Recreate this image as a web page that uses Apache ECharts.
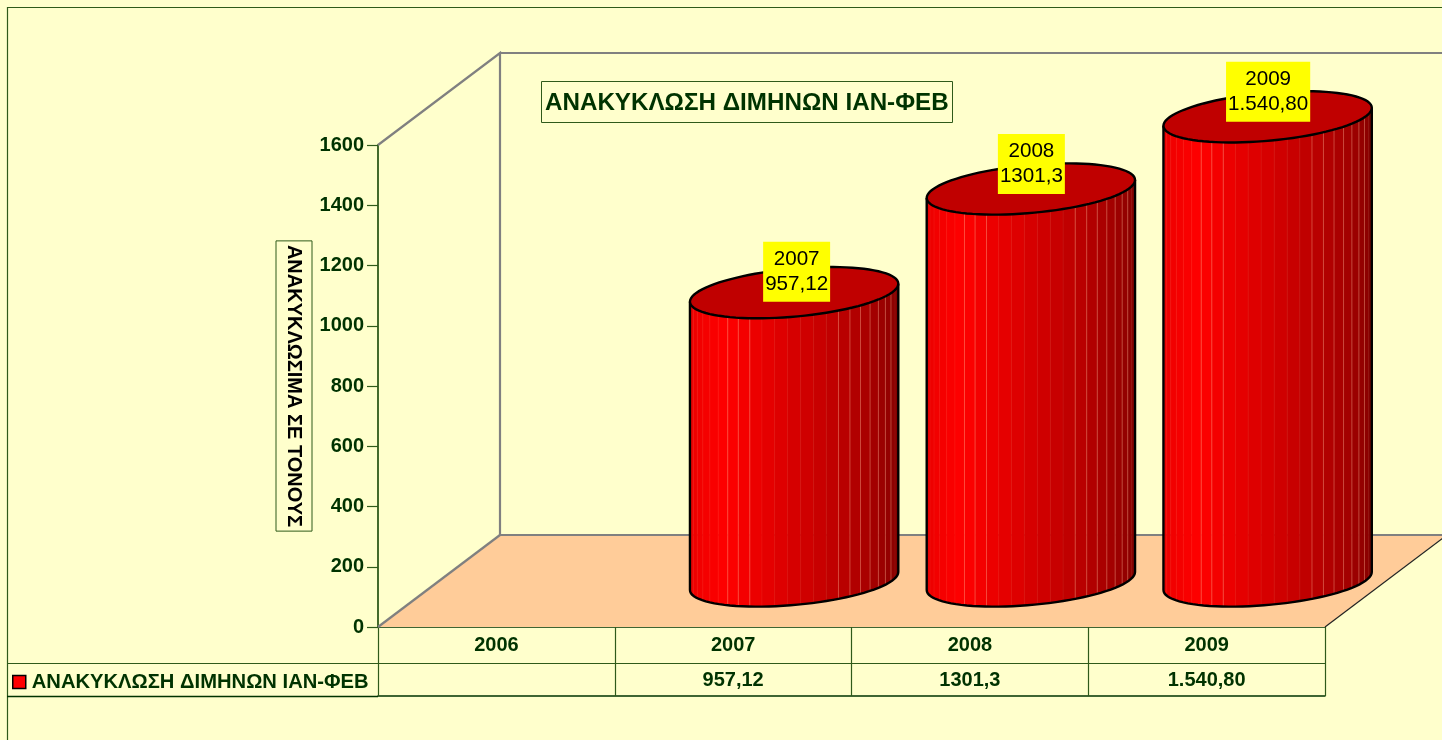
<!DOCTYPE html>
<html>
<head>
<meta charset="utf-8">
<style>
  html, body { margin: 0; padding: 0; background: #ffffcc; overflow: hidden; }
  #main { width: 1442px; height: 740px; }
</style>
<script src="https://cdn.jsdelivr.net/npm/echarts@6/dist/echarts.min.js"></script>
</head>
<body>
<div id="main"></div>
<script>
const years = ['2006', '2007', '2008', '2009']
const tableValues = ['', '957,12', '1301,3', '1.540,80']
const tonnes = [null, 957.12, 1301.3, 1540.8]
const seriesName = 'ΑΝΑΚΥΚΛΩΣΗ ΔΙΜΗΝΩΝ ΙΑΝ-ΦΕΒ'
const yAxisName = 'ΑΝΑΚΥΚΛΩΣΙΜΑ ΣΕ ΤΟΝΟΥΣ'

const font = '"Liberation Sans", Arial, sans-serif'
const darkGreen = '#003300'
const lineGreen = '#2f5a1a'
// 3d look: the back wall sits this far from the front of the floor
const depthX = 122
const depthY = -92
const facetCount = 25

const chart = echarts.init(document.getElementById('main'))

function facetColor(deg) {
  // bright on the left, falling to dark red on the right
  const red = deg < 50 ? 228 + deg * 0.54 : 255 - (deg - 50) * 1.02
  return 'rgb(' + Math.round(red) + ',0,0)'
}

function renderWalls(params, api) {
  const cs = params.coordSys
  const left = cs.x
  const right = cs.x + cs.width
  const top = cs.y
  const bottom = cs.y + cs.height
  const far = right + 200
  const grey = { stroke: '#808080', lineWidth: 2.2, fill: null }
  return {
    type: 'group',
    children: [{
      type: 'polygon',
      shape: { points: [[left, bottom], [left + depthX, bottom + depthY], [far, bottom + depthY], [far, bottom + depthY + 2], [right + 117, bottom + depthY + 3], [right, bottom]] },
      style: { fill: '#ffcc99' }
    }, {
      type: 'polyline',
      shape: { points: [[left, top], [left + depthX, top + depthY], [left + depthX, bottom + depthY]] },
      style: grey
    }, {
      type: 'line',
      shape: { x1: left + depthX, y1: top + depthY, x2: far, y2: top + depthY },
      style: grey
    }, {
      type: 'line',
      shape: { x1: left + depthX, y1: bottom + depthY, x2: far, y2: bottom + depthY },
      style: grey
    }, {
      type: 'line',
      shape: { x1: left, y1: bottom, x2: left + depthX, y2: bottom + depthY },
      style: grey
    }, {
      type: 'line',
      shape: { x1: right, y1: bottom, x2: right + depthX, y2: bottom + depthY },
      style: { stroke: '#222', lineWidth: 1.2 }
    }]
  }
}

function renderCylinder(params, api) {
  const value = api.value(1)
  if (isNaN(value)) return null
  const base = api.coord([api.value(0), 0])
  const head = api.coord([api.value(0), value])
  const r = api.size([1, 0])[0] * 0.44
  const cx = base[0] + depthX / 2
  const yBottom = base[1] + depthY / 2
  const yTop = head[1] + depthY / 2

  // rim of the tilted ellipse, deg 0 = left edge, 180 = right edge, going along the front
  const rim = (cy, deg) => {
    const t = deg * Math.PI / 180
    return [cx - r * Math.cos(t), cy + 9 * Math.cos(t) + 24 * Math.sin(t)]
  }

  const children = []
  const step = 180 / facetCount
  for (let i = 0; i < facetCount; i++) {
    const a = i * step
    const b = a + step
    const color = facetColor(a + step / 2)
    children.push({
      type: 'polygon',
      shape: { points: [rim(yTop, a), rim(yTop, b), rim(yBottom, b), rim(yBottom, a)] },
      style: { fill: color, stroke: color, lineWidth: 0.6 }
    })
  }
  for (let i = 1; i < facetCount; i++) {
    const deg = i * step
    const p1 = rim(yTop, deg)
    const p2 = rim(yBottom, deg)
    const strong = (deg > 45 && deg < 72) || (deg > 108 && deg < 165)
    children.push({
      type: 'line',
      shape: { x1: p1[0], y1: p1[1], x2: p2[0], y2: p2[1] },
      style: { stroke: strong ? 'rgba(255,170,140,0.4)' : 'rgba(255,170,140,0.08)', lineWidth: 1 }
    })
  }

  // black outline: sides + front of the base
  const outline = [rim(yTop, 0)]
  for (let d = 0; d <= 180; d += 4) outline.push(rim(yBottom, d))
  outline.push(rim(yTop, 180))
  children.push({
    type: 'polyline',
    shape: { points: outline },
    style: { stroke: '#000', lineWidth: 2.4, fill: null }
  })

  const top = []
  for (let d = 0; d < 360; d += 4) top.push(rim(yTop, d))
  children.push({
    type: 'polygon',
    shape: { points: top },
    style: { fill: '#c00000', stroke: '#000', lineWidth: 2.4 }
  })

  // yellow label over the top of the cylinder
  const lift = params.dataIndex === 1 ? 21 : 25
  children.push({
    type: 'text',
    x: cx + (params.dataIndex === 1 ? 2.5 : 0.5),
    y: yTop - lift,
    style: {
      text: years[params.dataIndex] + '\n' + tableValues[params.dataIndex],
      fill: '#000',
      font: '20.6px ' + font,
      lineHeight: 25,
      align: 'center',
      verticalAlign: 'middle',
      backgroundColor: '#ffff00',
      padding: [5, 2, 5, 2]
    }
  })
  return { type: 'group', children }
}

const option = {
  animation: false,
  backgroundColor: '#ffffcc',
  textStyle: { fontFamily: font },
  title: {
    text: seriesName,
    left: 541,
    top: 81,
    padding: [10, 4, 8, 4],
    borderColor: lineGreen,
    borderWidth: 1,
    textStyle: { color: darkGreen, fontSize: 24.2, fontWeight: 'bold', fontFamily: font, lineHeight: 24 }
  },
  legend: {
    data: [{ name: seriesName, icon: 'rect', itemStyle: { color: '#ff0000', borderColor: '#000', borderWidth: 1.5 } }],
    left: 12,
    top: 672,
    padding: 0,
    itemWidth: 13,
    itemHeight: 13,
    itemGap: 0,
    selectedMode: false,
    textStyle: { color: darkGreen, fontSize: 20.2, fontWeight: 'bold', fontFamily: font, padding: [0, 0, 0, 1] }
  },
  grid: { left: 378, top: 145, width: 947, height: 482 },
  xAxis: [{
    type: 'category',
    data: years,
    position: 'bottom',
    axisLine: { onZero: false, lineStyle: { color: darkGreen, width: 1.5 } },
    axisTick: { show: true, length: 36, lineStyle: { color: lineGreen, width: 1.2 } },
    axisLabel: { color: darkGreen, fontSize: 20, fontWeight: 'bold', fontFamily: font, margin: 18, verticalAlign: 'middle', interval: 0 }
  }, {
    type: 'category',
    data: tableValues,
    position: 'bottom',
    offset: 36,
    axisLine: { onZero: false, lineStyle: { color: lineGreen, width: 1.2 } },
    axisTick: { show: true, length: 33, lineStyle: { color: lineGreen, width: 1.2 } },
    axisLabel: { color: darkGreen, fontSize: 20, fontWeight: 'bold', fontFamily: font, margin: 17, verticalAlign: 'middle', interval: 0 }
  }, {
    type: 'category',
    data: years,
    position: 'bottom',
    offset: 69,
    axisLine: { onZero: false, lineStyle: { color: darkGreen, width: 1.5 } },
    axisTick: { show: false },
    axisLabel: { show: false }
  }],
  yAxis: {
    type: 'value',
    min: 0,
    max: 1600,
    interval: 200,
    name: yAxisName,
    nameLocation: 'middle',
    nameRotate: -90,
    nameGap: 66,
    nameMoveOverlap: false,
    nameTextStyle: {
      color: '#000',
      fontSize: 20,
      fontWeight: 'bold',
      fontFamily: font,
      borderColor: lineGreen,
      borderWidth: 1,
      padding: [8, 4, 8, 4]
    },
    axisLine: { show: true, lineStyle: { color: lineGreen, width: 1.8 } },
    axisTick: { show: true, length: 11, lineStyle: { color: lineGreen, width: 1.2 } },
    axisLabel: { color: darkGreen, fontSize: 20, fontWeight: 'bold', fontFamily: font, margin: 14, formatter: v => String(v) },
    splitLine: { show: false }
  },
  graphic: [{
    type: 'rect',
    silent: true,
    z: -1,
    shape: { x: 7.5, y: 7.5, width: 1500, height: 800 },
    style: { fill: null, stroke: lineGreen, lineWidth: 1.2 }
  }, {
    type: 'line',
    silent: true,
    shape: { x1: 7, y1: 663.5, x2: 378, y2: 663.5 },
    style: { stroke: lineGreen, lineWidth: 1.2 }
  }, {
    type: 'line',
    silent: true,
    shape: { x1: 7, y1: 696.5, x2: 378, y2: 696.5 },
    style: { stroke: darkGreen, lineWidth: 1.5 }
  }],
  series: [{
    name: 'walls',
    type: 'custom',
    z: 1,
    silent: true,
    renderItem: renderWalls,
    data: [[0, 0]]
  }, {
    name: seriesName,
    type: 'custom',
    z: 3,
    silent: true,
    itemStyle: { color: '#ff0000' },
    renderItem: renderCylinder,
    encode: { x: 0, y: 1 },
    data: tonnes.map((v, i) => [i, v])
  }]
}

chart.setOption(option)
</script>
</body>
</html>
